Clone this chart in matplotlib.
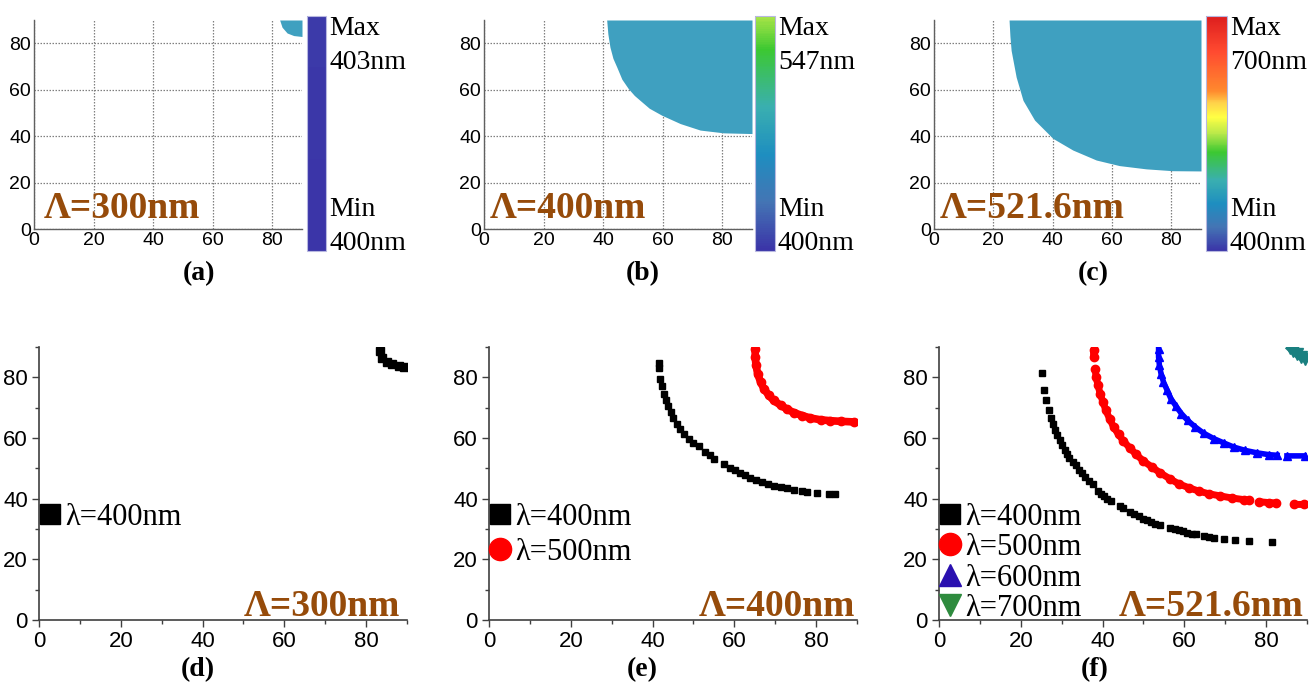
import numpy as np
import matplotlib
matplotlib.use('Agg')
import matplotlib.pyplot as plt
from matplotlib.colors import LinearSegmentedColormap, ListedColormap, Normalize
from matplotlib.cm import ScalarMappable
from matplotlib.lines import Line2D
from matplotlib.ticker import MultipleLocator

# ---------------- data ----------------
periods = ["Λ=300nm", "Λ=400nm", "Λ=521.6nm"]
panel_top = ["(a)", "(b)", "(c)"]
panel_bot = ["(d)", "(e)", "(f)"]
cbar_min = [400, 400, 400]
cbar_max = [403, 547, 700]
wavelengths = [400, 500, 600, 700]

# top row: boundary of the filled region (filled up to 90)
a_x = [82.5, 83.3, 85.0, 87.2, 90.0]
a_y = [90.0, 86.9, 84.4, 83.3, 82.9]
b_x = [41.2, 41.6, 42.3, 43.3, 44.6, 46.3, 48.5, 50.5, 52.4, 55.5, 59.7, 65.9, 72.6, 80.5, 90.0]
b_y = [90.0, 84.0, 78.3, 73.5, 69.7, 64.5, 60.4, 57.5, 55.4, 52.0, 49.0, 45.4, 42.6, 41.4, 41.1]
c_x = [25.3, 25.6, 26.0, 27.7, 30.0, 33.9, 40.1, 46.8, 54.7, 62.5, 71.5, 80.5, 90.0]
c_y = [90.0, 83.0, 76.9, 65.4, 55.4, 46.9, 39.0, 34.0, 29.7, 27.3, 25.9, 25.1, 25.0]

# bottom row
d400_x = [83.3, 83.9, 85.1, 86.4, 88.0, 89.2]
d400_y = [88.7, 86.5, 85.1, 84.5, 83.6, 83.4]

e400_x = [41.5, 41.5, 41.9, 42.3, 42.7, 43.3, 43.8, 44.5, 45.1, 46.0, 46.8, 47.8, 48.8, 50.0, 51.3,
          52.9, 54.0, 55.1, 57.4, 58.9, 60.2, 61.5, 62.7, 63.9, 65.4, 66.8, 68.2, 69.6, 71.3, 72.9,
          74.5, 76.6, 77.8, 80.2, 83.1, 84.7]
e400_y = [84.7, 83.2, 79.6, 77.0, 74.6, 72.4, 70.4, 68.6, 66.7, 64.7, 63.1, 61.4, 59.8, 58.4, 57.3,
          55.4, 54.3, 53.2, 51.3, 50.2, 49.3, 48.5, 47.7, 46.9, 46.0, 45.4, 44.8, 44.3, 43.8, 43.4,
          43.0, 42.5, 42.3, 42.0, 41.6, 41.6]
e500_x = [65.1, 65.1, 65.3, 65.7, 66.4, 67.2, 68.4, 69.6, 71.3, 72.9, 74.5, 76.6, 78.6, 81.1, 83.5, 86.0, 89.2]
e500_y = [89.5, 86.7, 84.0, 81.2, 78.5, 76.3, 74.1, 72.4, 70.8, 69.5, 68.4, 67.4, 66.6, 66.0, 65.7, 65.5, 65.3]

f400_x = [25.3, 25.8, 26.2, 26.8, 27.3, 27.8, 28.3, 28.8, 29.5, 30.0, 30.7, 31.3, 31.9, 32.7, 33.4,
          34.2, 34.9, 35.8, 36.6, 37.6, 39.0, 39.7, 40.4, 41.2, 42.0, 44.3, 45.1, 46.8, 47.8, 48.8,
          49.8, 50.9, 51.8, 52.9, 54.1, 56.6, 57.6, 58.6, 59.6, 60.7, 61.9, 62.9, 64.7, 66.0, 67.2,
          69.6, 72.5, 75.8, 81.5]
f400_y = [81.4, 75.9, 72.6, 69.1, 66.7, 64.7, 62.7, 60.9, 59.2, 57.6, 56.2, 54.8, 53.5, 52.1, 51.0,
          49.6, 48.5, 47.1, 45.8, 44.7, 42.5, 41.6, 40.8, 40.0, 39.2, 37.5, 36.8, 35.6, 34.8, 34.2,
          33.4, 32.9, 32.3, 31.8, 31.2, 30.4, 30.0, 29.6, 29.2, 28.8, 28.5, 28.2, 27.7, 27.4, 27.1,
          26.8, 26.5, 26.0, 25.6]
f500_x = [37.8, 37.8, np.nan, 38.2, 38.4, 38.9, 39.4, 40.1, 40.8, 41.7, 42.7, 43.9, 45.1, 46.6, 48.2,
          50.0, 52.1, 54.1, 56.4, 58.6, 61.1, 63.5, 66.0, 68.8, 71.7, 74.5, 75.8, np.nan, 78.2, 80.7,
          82.3, np.nan, 86.8, 89.2]
f500_y = [88.9, 86.7, np.nan, 82.9, 80.1, 77.4, 74.6, 71.9, 69.1, 66.4, 63.6, 61.2, 59.0, 56.8, 54.6,
          52.4, 50.4, 48.5, 46.6, 44.9, 43.6, 42.5, 41.6, 40.9, 40.2, 39.7, 39.5, np.nan, 39.0, 38.7,
          38.6, np.nan, 38.1, 38.1]
f600_x = [53.7, 53.7, 53.9, 54.3, 54.9, 55.8, 56.7, 58.0, 59.3, 60.8, 62.7, 64.7, 67.2, 69.6, 72.1,
          74.9, 77.8, 80.7, 82.7, np.nan, 85.1, 89.6]
f600_y = [89.5, 86.7, 84.0, 81.2, 78.5, 75.7, 73.0, 70.4, 68.0, 65.8, 63.6, 61.6, 59.8, 58.4, 57.0,
          55.9, 55.1, 54.5, 54.3, np.nan, 54.1, 54.1]
f700_x = [85.8, 86.6, 87.5, 88.5, 89.5]
f700_y = [89.6, 88.6, 87.6, 86.6, 86.0]

# ---------------- style ----------------
W, H = 1309, 689
SERIF = ['Liberation Serif', 'DejaVu Serif']
SANS = ['Liberation Sans', 'DejaVu Sans']
BROWN = '#964B0A'
FILL = '#3FA0C0'

spec_stops = [(0.00, '#3B35A8'), (0.10, '#4474B4'), (0.20, '#1E8EC0'), (0.30, '#3AAFB0'),
              (0.42, '#3CC832'), (0.50, '#B8E84A'), (0.57, '#FFFF44'), (0.63, '#FFD24A'),
              (0.68, '#FF8A2E'), (0.85, '#FF4A30'), (1.00, '#DD1E1E')]
spectrum = LinearSegmentedColormap.from_list('spec', spec_stops)

fig = plt.figure(figsize=(W / 100, H / 100), dpi=100)


def ax_px(l, r, t, b):
    return fig.add_axes([l / W, 1 - b / H, (r - l) / W, (b - t) / H])


# ---------------- top row ----------------
top_pos = [(34, 302), (484, 752), (934, 1201)]
cb_pos = [(307, 326), (755, 775), (1206, 1227)]
bounds = [(a_x, a_y), (b_x, b_y), (c_x, c_y)]
lab_x = [0.037, 0.022, 0.022]
sub_top_x = [199, 643, 1093]

for i in range(3):
    l, r = top_pos[i]
    ax = ax_px(l, r, 20, 229)
    ax.set_xlim(0, 90)
    ax.set_ylim(0, 90)
    ax.set_xticks([0, 20, 40, 60, 80])
    ax.set_yticks([0, 20, 40, 60, 80])
    ax.grid(True, linestyle=(0, (1.2, 1.2)), color='#808080', linewidth=0.9)
    ax.set_axisbelow(True)
    for s in ['top', 'right']:
        ax.spines[s].set_visible(False)
    for s in ['left', 'bottom']:
        ax.spines[s].set_color('#606060')
        ax.spines[s].set_linewidth(1.0)
    ax.tick_params(length=0, labelsize=14, pad=2)
    for t in ax.get_xticklabels() + ax.get_yticklabels():
        t.set_family(SANS)
    bx, by = bounds[i]
    ax.fill_between(bx, by, 90, color=FILL, linewidth=0, zorder=3)
    ax.text(lab_x[i], 0.053, periods[i], transform=ax.transAxes, color=BROWN,
            fontsize=27, fontweight='bold', family=SERIF, va='baseline', ha='left', zorder=5)

    # colorbar
    cl, cr = cb_pos[i]
    cax = ax_px(cl, cr, 16, 251)
    vmin, vmax = cbar_min[i], cbar_max[i]
    frac = (vmax - 400) / 300.0
    cm = ListedColormap(spectrum(np.linspace(0, frac, 256)))
    cb = fig.colorbar(ScalarMappable(norm=Normalize(vmin, vmax), cmap=cm), cax=cax)
    cb.set_ticks([])
    cb.outline.set_edgecolor('#B8B8E0')
    cb.outline.set_linewidth(0.8)
    tx = (cr + 3) / W
    fig.text(tx, 1 - 35 / H, 'Max', fontsize=20, family=SERIF, va='baseline')
    fig.text(tx, 1 - 69 / H, f'{vmax}nm', fontsize=20, family=SERIF, va='baseline')
    fig.text(tx, 1 - 216 / H, 'Min', fontsize=20, family=SERIF, va='baseline')
    fig.text(tx, 1 - 250 / H, f'{vmin}nm', fontsize=20, family=SERIF, va='baseline')

    fig.text(sub_top_x[i] / W, 1 - 274 / H, panel_top[i], fontsize=20, fontweight='bold',
             family=SERIF, ha='center', va='center')

# ---------------- bottom row ----------------
bot_pos = [(39, 407), (489, 857), (939, 1307)]
sub_bot_x = [198, 642, 1095]
lab_rx = [0.98, 0.995, 0.99]
leg_size = [22, 22, 22]
leg_spacing = [0.1, 0.2, 0.05]

leg_handles = [
    Line2D([], [], ls='none', marker='s', color='black', ms=15),
    Line2D([], [], ls='none', marker='o', color='#FF0000', ms=16),
    Line2D([], [], ls='none', marker='^', color='#2A10B0', ms=16),
    Line2D([], [], ls='none', marker='v', color='#2E8B3E', ms=16),
]
leg_labels = [f'λ={w}nm' for w in wavelengths]

for i in range(3):
    l, r = bot_pos[i]
    ax = ax_px(l, r, 347, 620)
    ax.set_xlim(0, 90)
    ax.set_ylim(0, 90)
    ax.xaxis.set_major_locator(MultipleLocator(20))
    ax.xaxis.set_minor_locator(MultipleLocator(10))
    ax.yaxis.set_major_locator(MultipleLocator(20))
    ax.yaxis.set_minor_locator(MultipleLocator(10))
    for s in ['top', 'right']:
        ax.spines[s].set_visible(False)
    for s in ['left', 'bottom']:
        ax.spines[s].set_color('#404040')
        ax.spines[s].set_linewidth(1.2)
    ax.tick_params(which='major', direction='out', length=5, width=1.0, color='#404040',
                   labelsize=16, pad=3)
    ax.tick_params(which='minor', direction='out', length=3, width=1.0, color='#404040')
    for t in ax.get_xticklabels() + ax.get_yticklabels():
        t.set_family(SANS)

    if i == 0:
        ax.plot(d400_x, d400_y, ls='none', marker='s', ms=6, color='black')
    elif i == 1:
        ax.plot(e500_x, e500_y, ls='-', lw=5.5, marker='o', ms=6, color='#FF0000',
                solid_capstyle='round')
        ax.plot(e400_x, e400_y, ls='none', marker='s', ms=5, color='black')
    else:
        ax.plot(f500_x, f500_y, ls='-', lw=5.0, marker='o', ms=6, color='#FF0000',
                solid_capstyle='round')
        ax.plot(f600_x, f600_y, ls='-', lw=4.0, marker='^', ms=5.5, color='#0000FF')
        ax.plot(f700_x, f700_y, ls='-', lw=5, marker='v', ms=9, color='#1A8080')
        ax.plot(f400_x, f400_y, ls='none', marker='s', ms=4.8, color='black')

    n = i + 1 if i < 2 else 4
    ax.legend(leg_handles[:n], leg_labels[:n], loc='upper left', bbox_to_anchor=(0.0, 0.43),
              borderpad=0, borderaxespad=0, handlelength=0.7, handletextpad=0.15,
              labelspacing=leg_spacing[i], frameon=False,
              prop={'family': SERIF, 'size': leg_size[i]})

    ax.text(lab_rx[i], 0.015, periods[i], transform=ax.transAxes, color=BROWN,
            fontsize=27, fontweight='bold', family=SERIF, va='baseline', ha='right', zorder=5)

    fig.text(sub_bot_x[i] / W, 1 - 670 / H, panel_bot[i], fontsize=20, fontweight='bold',
             family=SERIF, ha='center', va='center')

fig.savefig('out.png', dpi=100)
